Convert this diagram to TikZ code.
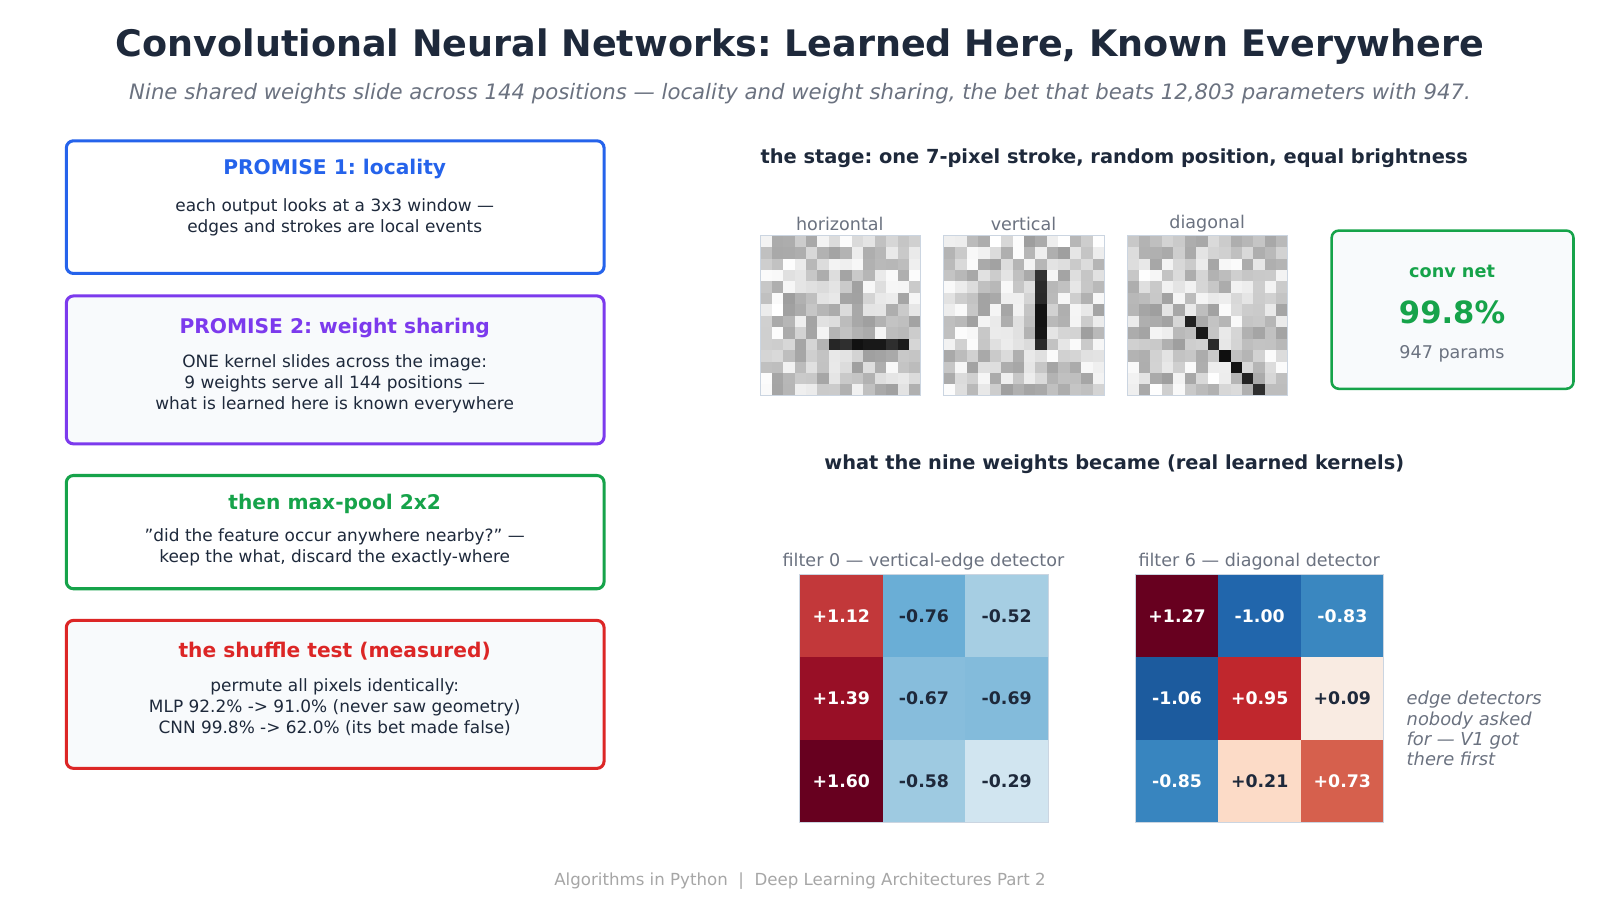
\documentclass[tikz,border=0pt]{standalone}
\usepackage{fontspec}
\setmainfont{DejaVu Sans}
\usepackage{xcolor}
\definecolor{ink}{HTML}{1E293B}
\definecolor{muted}{HTML}{6B7280}
\definecolor{pblue}{HTML}{2563EB}
\definecolor{ppurple}{HTML}{7C3AED}
\definecolor{pgreen}{HTML}{16A34A}
\definecolor{pred}{HTML}{DC2626}
\definecolor{paper}{HTML}{F8FAFC}
\definecolor{edge}{HTML}{CBD5E1}
\frenchspacing

\tikzset{
  promise/.style={draw=#1, line width=3pt, rounded corners=7pt},
  head/.style={font=\bfseries\fontsize{19.8}{24}\selectfont, anchor=center},
  body/.style={font=\fontsize{16.6}{20.5}\selectfont, text=ink, align=center},
  pixframe/.style={draw=edge, line width=1pt},
  tag/.style={font=\fontsize{17.2}{20}\selectfont, text=muted},
  kcell/.style={minimum width=81pt, minimum height=81pt, inner sep=0pt,
    font=\bfseries\fontsize{17}{20}\selectfont},
}

% one 14x14 noisy image with a 7-pixel stroke (1 horiz, 2 vert, 3 diag)
\newcommand\pixgrid[2]{%
  \foreach \r in {0,...,13}{\foreach \c in {0,...,13}{%
    \pgfmathsetmacro\g{0.62+0.38*rnd}%
    \pgfmathtruncatemacro\hit{ifthenelse(#2==1, and(\r==9, and(\c>=6,\c<=12)),
      ifthenelse(#2==2, and(\c==8, and(\r>=3,\r<=9)), and(\r-\c==2, \r>=7)))}%
    \ifnum\hit=1 \pgfmathsetmacro\g{0.05+0.15*rnd}\fi
    \fill[fill={rgb,1:red,\g;green,\g;blue,\g}] ({#1+\c*11.214},{231+\r*11.214}) rectangle ++(11.214,11.214);
  }}
  \draw[pixframe] (#1,231) rectangle ++(157,157);
}

% one kernel weight: name, x, y, fill (hex), text colour, value
\newcommand\kval[6]{%
  \definecolor{kfill#1}{HTML}{#4}%
  \node[kcell, fill=kfill#1, text=#5] (#1) at (#2,#3) {#6};
}

\begin{document}
\begin{tikzpicture}[x=1pt, y=-1pt]
\useasboundingbox[fill=white] (0,0) rectangle (1568,882);
\pgfmathsetseed{7}

% title
\node[font=\bfseries\fontsize{35.8}{42}\selectfont, text=ink] (title) at (784,46) {Convolutional Neural Networks: Learned Here, Known Everywhere};
\node[font=\itshape\fontsize{20.8}{25}\selectfont, text=muted] (subtitle) at (784,92) {Nine shared weights slide across 144 positions — locality and weight sharing, the bet that beats 12,803 parameters with 947.};

% promises
\draw[promise=pblue, fill=white] (65,138) rectangle (592,268);
\node[head, text=pblue] (p1) at (328,166) {PROMISE 1: locality};
\node[body] (p1b) at (328,213) {each output looks at a 3x3 window —\\edges and strokes are local events};

\draw[promise=ppurple, fill=paper] (65,290) rectangle (592,435);
\node[head, text=ppurple] (p2) at (328,321) {PROMISE 2: weight sharing};
\node[body] (p2b) at (328,376) {ONE kernel slides across the image:\\9 weights serve all 144 positions —\\what is learned here is known everywhere};

\draw[promise=pgreen, fill=white] (65,466) rectangle (592,577);
\node[head, text=pgreen] (p3) at (328,494) {then max-pool 2x2};
\node[body] (p3b) at (328,536) {\symbol{34}did the feature occur anywhere nearby?\symbol{34} —\\keep the what, discard the exactly-where};

\draw[promise=pred, fill=paper] (65,608) rectangle (592,753);
\node[head, text=pred] (p4) at (328,638) {the shuffle test (measured)};
\node[body] (p4b) at (328,693) {permute all pixels identically:\\MLP 92.2\% -> 91.0\% (never saw geometry)\\CNN 99.8\% -> 62.0\% (its bet made false)};

% the stage
\node[font=\bfseries\fontsize{19}{23}\selectfont, text=ink] (stage) at (1092,155) {the stage: one 7-pixel stroke, random position, equal brightness};
\node[tag] (th) at (823,219) {horizontal};
\node[tag] (tv) at (1003,219) {vertical};
\node[tag] (td) at (1183,219) {diagonal};
\pixgrid{745}{1}
\pixgrid{925}{2}
\pixgrid{1105}{3}

\draw[promise=pgreen, fill=paper, line width=2.5pt] (1305,226) rectangle (1542,381);
\node[font=\bfseries\fontsize{17.3}{21}\selectfont, text=pgreen] (cn) at (1423,266) {conv net};
\node[font=\bfseries\fontsize{30}{35}\selectfont, text=pgreen] (acc) at (1423,306) {99.8\%};
\node[tag] (par) at (1423,347) {947 params};

% kernels
\node[font=\bfseries\fontsize{19}{23}\selectfont, text=ink] (kt) at (1092,455) {what the nine weights became (real learned kernels)};
\node[tag] (f0) at (905,550) {filter 0 — vertical-edge detector};
\node[tag] (f6) at (1234,550) {filter 6 — diagonal detector};

\kval{a11}{824.5}{603.5}{C2383A}{white}{+1.12}
\kval{a12}{905.5}{603.5}{6AAED6}{ink}{-0.76}
\kval{a13}{986.5}{603.5}{A6CEE3}{ink}{-0.52}
\kval{a21}{824.5}{684.5}{980F26}{white}{+1.39}
\kval{a22}{905.5}{684.5}{87BDDC}{ink}{-0.67}
\kval{a23}{986.5}{684.5}{83BBDB}{ink}{-0.69}
\kval{a31}{824.5}{765.5}{67001F}{white}{+1.60}
\kval{a32}{905.5}{765.5}{9ECAE1}{ink}{-0.58}
\kval{a33}{986.5}{765.5}{D1E5F0}{ink}{-0.29}
\draw[pixframe] (a11.north west) rectangle (a33.south east);

\kval{b11}{1153.5}{603.5}{67001F}{white}{+1.27}
\kval{b12}{1234.5}{603.5}{2166AC}{white}{-1.00}
\kval{b13}{1315.5}{603.5}{3A87C0}{white}{-0.83}
\kval{b21}{1153.5}{684.5}{1C5B9E}{white}{-1.06}
\kval{b22}{1234.5}{684.5}{C0272D}{white}{+0.95}
\kval{b23}{1315.5}{684.5}{F9EBE2}{ink}{+0.09}
\kval{b31}{1153.5}{765.5}{3885BF}{white}{-0.85}
\kval{b32}{1234.5}{765.5}{FCDBC7}{ink}{+0.21}
\kval{b33}{1315.5}{765.5}{D6604D}{white}{+0.73}
\draw[pixframe] (b11.north west) rectangle (b33.south east);

\node[font=\itshape\fontsize{17.5}{20}\selectfont, text=muted, align=left, anchor=west] (note) at (1375,714) {edge detectors\\nobody asked\\for — V1 got\\there first};

% footer
\node[font=\fontsize{16.3}{19}\selectfont, text=black!35] (foot) at (784,863) {Algorithms in Python \ |\ \ Deep Learning Architectures Part 2};
\end{tikzpicture}
\end{document}
